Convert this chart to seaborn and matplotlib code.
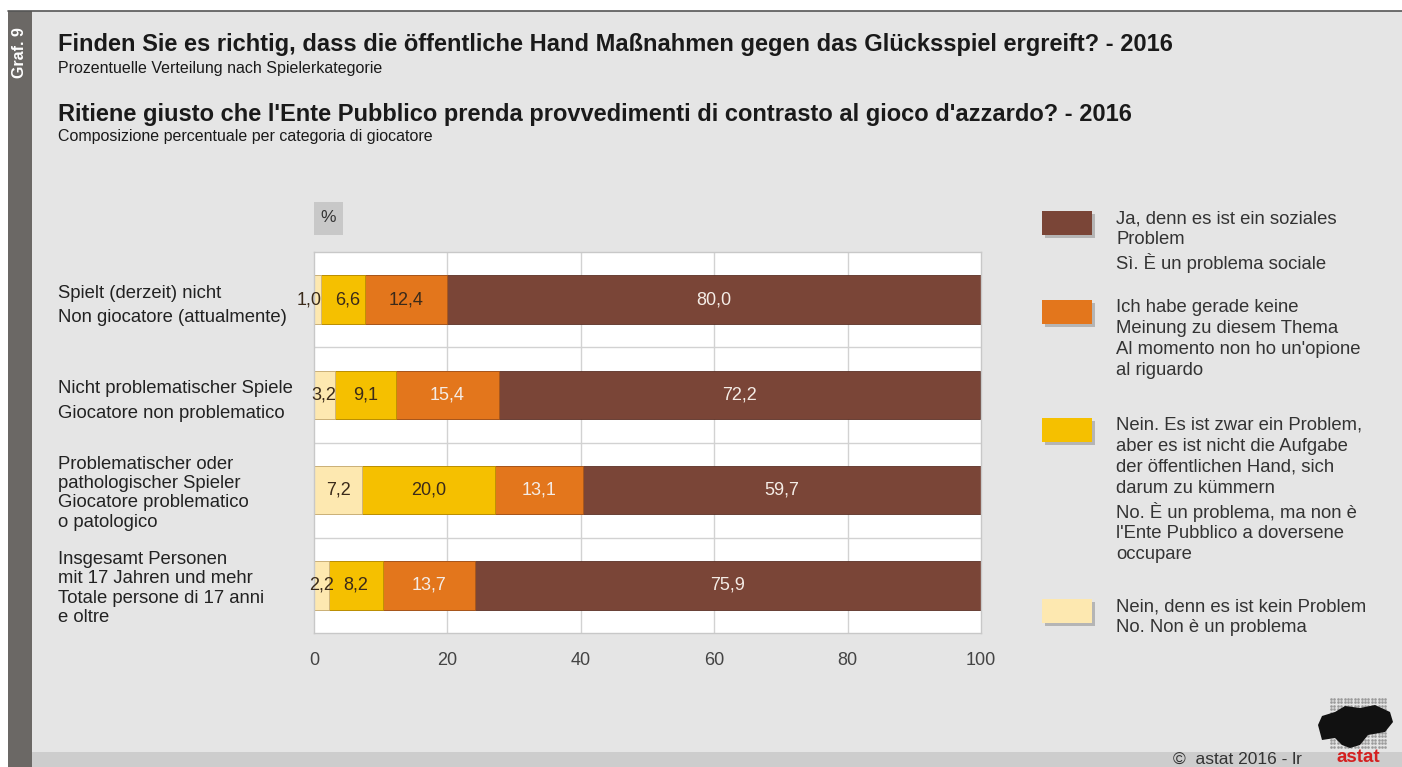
import numpy as np
import pandas as pd
import matplotlib.pyplot as plt
import seaborn as sns
from matplotlib.patches import Rectangle, Polygon
from matplotlib.lines import Line2D

# ------------------------------
# Daten
# ------------------------------
categories = [
    "Spielt (derzeit) nicht\nNon giocatore (attualmente)",
    "Nicht problematischer Spiele\nGiocatore non problematico",
    "Problematischer oder\npathologischer Spieler\nGiocatore problematico\no patologico",
    "Insgesamt Personen\nmit 17 Jahren und mehr\nTotale persone di 17 anni\ne oltre",
]
kein_problem = [1.0, 3.2, 7.2, 2.2]
nicht_aufgabe = [6.6, 9.1, 20.0, 8.2]
keine_meinung = [12.4, 15.4, 13.1, 13.7]
soziales_problem = [80.0, 72.2, 59.7, 75.9]

series_names = [
    "Nein, denn es ist kein Problem\nNo. Non è un problema",
    "Nein. Es ist zwar ein Problem,\naber es ist nicht die Aufgabe\nder öffentlichen Hand, sich\ndarum zu kümmern\nNo. È un problema, ma non è\nl'Ente Pubblico a doversene\noccupare",
    "Ich habe gerade keine\nMeinung zu diesem Thema\nAl momento non ho un'opione\nal riguardo",
    "Ja, denn es ist ein soziales\nProblem\nSì. È un problema sociale",
]
x_ticks = [0, 20, 40, 60, 80, 100]

colors = ["#fde8b0", "#f5c000", "#e3761c", "#7a4537"]
edges = ["#c8b080", "#b89000", "#a8561a", "#5a3025"]
txt_colors = ["#3a2a1a", "#3a2a1a", "#f4ece6", "#f4ece6"]

values = [kein_problem, nicht_aufgabe, keine_meinung, soziales_problem]
cum = np.cumsum(np.array(values), axis=0)

W, H = 1402, 767
def fx(x):
    return x / W
def fy(y):
    return 1 - y / H

sns.set_theme(style="white")
plt.rcParams['font.family'] = ['Liberation Sans', 'DejaVu Sans']

fig = plt.figure(figsize=(W / 100, H / 100), dpi=100)
fig.patch.set_facecolor("white")

# Hintergrund / Rahmen
fig.patches.append(Rectangle((fx(8), 0), 1 - fx(8), fy(11), transform=fig.transFigure,
                             facecolor="#e5e5e5", edgecolor="none", zorder=-10))
fig.patches.append(Rectangle((fx(32), 0), 1 - fx(32), fy(752), transform=fig.transFigure,
                             facecolor="#cdcdcd", edgecolor="none", zorder=-9))
fig.patches.append(Rectangle((fx(8), 0), fx(32) - fx(8), fy(11), transform=fig.transFigure,
                             facecolor="#6b6865", edgecolor="none", zorder=-8))
fig.lines.append(Line2D([fx(8), 1], [fy(11), fy(11)], transform=fig.transFigure,
                        color="#555555", lw=1.2))
fig.text(fx(20), fy(53), "Graf. 9", rotation=90, color="white", fontsize=11.5,
         fontweight="bold", ha="center", va="center")

# Titel
fig.text(fx(58), fy(45), "Finden Sie es richtig, dass die öffentliche Hand Maßnahmen gegen das Glücksspiel ergreift? - 2016",
         fontsize=17, fontweight="bold", color="#1a1a1a", va="center")
fig.text(fx(58), fy(68), "Prozentuelle Verteilung nach Spielerkategorie",
         fontsize=11.5, color="#1a1a1a", va="center")
fig.text(fx(58), fy(115), "Ritiene giusto che l'Ente Pubblico prenda provvedimenti di contrasto al gioco d'azzardo? - 2016",
         fontsize=17, fontweight="bold", color="#1a1a1a", va="center")
fig.text(fx(58), fy(137), "Composizione percentuale per categoria di giocatore",
         fontsize=11.5, color="#1a1a1a", va="center")

# Diagramm
ax = fig.add_axes([fx(314), fy(633), fx(981) - fx(314), fy(252) - fy(633)])
ax.set_facecolor("white")

# gestapelte Balken: von der längsten kumulierten Summe zur kürzesten
for i in range(3, -1, -1):
    df = pd.DataFrame({"cat": categories, "val": cum[i]})
    sns.barplot(data=df, x="val", y="cat", orient="h", color=colors[i], saturation=1,
                width=0.51, edgecolor=edges[i], linewidth=0.6, ax=ax, zorder=2)

# kleine Verschiebungen, damit sich schmale Beschriftungen nicht überlappen
nudge = {(0, 0): -1.2, (1, 0): 0.7, (0, 1): -0.2}
for i in range(4):
    for j in range(len(categories)):
        v = values[i][j]
        c = txt_colors[i]
        if i == 2 and j == 0:
            c = "#3a2a1a"
        ax.text(cum[i][j] - v / 2 + nudge.get((i, j), 0), j, f"{v:.1f}".replace(".", ","),
                ha="center", va="center", fontsize=13, color=c, zorder=5)

ax.set_xlim(0, 100)
ax.set_ylim(3.5, -0.5)
ax.set_xticks(x_ticks)
ax.set_xticklabels([str(t) for t in x_ticks])
for t in x_ticks[1:-1]:
    ax.axvline(t, color="#d2d2d2", lw=1, zorder=0.5)
for y in [0.5, 1.5, 2.5]:
    ax.axhline(y, color="#d2d2d2", lw=1, zorder=0.5)
for s in ax.spines.values():
    s.set_color("#c8c8c8")
    s.set_linewidth(1)
ax.set_xlabel("")
ax.set_ylabel("")
ax.tick_params(axis="x", length=0, pad=14, labelsize=13, labelcolor="#444444")
ax.tick_params(axis="y", length=0, pad=184, labelsize=13.3, labelcolor="#222222")
for lab in ax.get_yticklabels():
    lab.set_ha("left")
    lab.set_linespacing(1.6 if lab.get_text().count("\n") == 1 else 1.18)

# %-Kästchen
fig.patches.append(Rectangle((fx(314), fy(235)), fx(343) - fx(314), fy(202) - fy(235),
                             transform=fig.transFigure, facecolor="#c8c8c8", edgecolor="none"))
fig.text(fx(328.5), fy(218), "%", fontsize=12.5, color="#333333", ha="center", va="center")

# Legende
leg_y = [211, 300, 418, 599]
order = [3, 2, 1, 0]
for k, i in enumerate(order):
    y0 = leg_y[k]
    fig.patches.append(Rectangle((fx(1045), fy(y0 + 27)), fx(1095) - fx(1045), fy(y0 + 3) - fy(y0 + 27),
                                 transform=fig.transFigure, facecolor="#b5b5b5", edgecolor="none"))
    fig.patches.append(Rectangle((fx(1042), fy(y0 + 24)), fx(1092) - fx(1042), fy(y0) - fy(y0 + 24),
                                 transform=fig.transFigure, facecolor=colors[i], edgecolor="none"))
    fig.text(fx(1116), fy(y0 - 1), series_names[i], fontsize=13.3, color="#333333",
             ha="left", va="top", linespacing=1.3)

# Fußzeile
fig.text(fx(1173), fy(759), "©  astat 2016 - lr", fontsize=12.5, color="#333333", ha="left", va="center")
fig.text(fx(1358), fy(757), "astat", fontsize=13.5, fontweight="bold", color="#d42020", ha="center", va="center")

# Logo (grob)
gx, gy = np.meshgrid(np.arange(1331, 1388, 3.4), np.arange(699, 748, 3.4))
fig.lines.append(Line2D(fx(gx.ravel()), fy(gy.ravel()), transform=fig.transFigure, ls="none",
                        marker="s", ms=0.8, color="#9a9a9a", zorder=1))
logo = [(1318, 725), (1322, 716), (1335, 712), (1345, 706), (1360, 708), (1375, 705), (1390, 712),
        (1393, 722), (1385, 732), (1368, 735), (1360, 745), (1350, 748), (1342, 745), (1335, 738),
        (1322, 740)]
fig.patches.append(Polygon([(fx(a), fy(b)) for a, b in logo], closed=True, transform=fig.transFigure,
                           facecolor="#111111", edgecolor="none", zorder=3))

fig.savefig("out.png", dpi=100)
